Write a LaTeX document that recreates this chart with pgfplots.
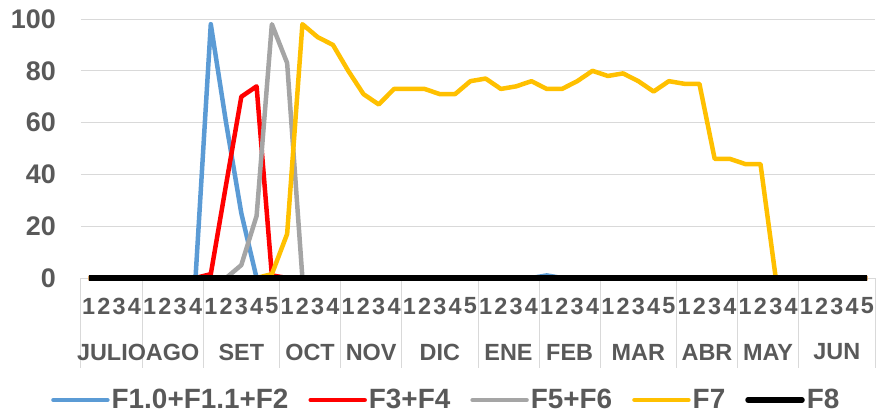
\documentclass[border=0pt]{standalone}
\usepackage{fontspec}
\setmainfont{Liberation Sans}
\usepackage{pgfplots}
\pgfplotsset{compat=1.18}
\usepackage{pgfplotstable}
\definecolor{txt}{HTML}{595959}
\definecolor{grd}{HTML}{D9D9D9}
\definecolor{cblue}{HTML}{5B9BD5}
\definecolor{cred}{HTML}{FF0000}
\definecolor{cgray}{HTML}{A5A5A5}
\definecolor{cyel}{HTML}{FFC000}

\pgfplotstableread{
x  a   b   c   d   e
0  0   0   0   0   0
1  0   0   0   0   0
2  0   0   0   0   0
3  0   0   0   0   0
4  0   0   0   0   0
5  0   0   0   0   0
6  0   0   0   0   0
7  0   0   0   0   0
8  98  1.5 0   0   0
9  60  36  0   0   0
10 25  70  5   0   0
11 0   74  24  0   0
12 0   1   98  1.5 0
13 0   0   83  17  0
14 0   0   0   98  0
15 0   0   0   93  0
16 0   0   0   90  0
17 0   0   0   80  0
18 0   0   0   71  0
19 0   0   0   67  0
20 0   0   0   73  0
21 0   0   0   73  0
22 0   0   0   73  0
23 0   0   0   71  0
24 0   0   0   71  0
25 0   0   0   76  0
26 0   0   0   77  0
27 0   0   0   73  0
28 0   0   0   74  0
29 0   0   0   76  0
30 1   0   0   73  0
31 0   0   0   73  0
32 0   0   0   76  0
33 0   0   0   80  0
34 0   0   0   78  0
35 0   0   0   79  0
36 0   0   0   76  0
37 0   0   0   72  0
38 0   0   0   76  0
39 0   0   0   75  0
40 0   0   0   75  0
41 0   0   0   46  0
42 0   0   0   46  0
43 0   0   0   44  0
44 0   0   0   44  0
45 0   0   0   0   0
46 0   0   0   0   0
47 0   0   0   0   0
48 0   0   0   0   0
49 0   0   0   0   0
50 0   0   0   0   0
51 0   0   0   0   0
}\data

\begin{document}
\begin{tikzpicture}
\begin{axis}[
  name=ax,
  scale only axis, width=794bp, height=259bp,
  xmin=-0.5, xmax=51.5, ymin=0, ymax=100,
  axis line style={draw=none},
  ytick={0,20,...,100},
  ymajorgrids=true, xmajorgrids=false, xminorgrids=false,
  grid style={grd, line width=1bp},
  major tick length=0pt, tick style={draw=none},
  xtick pos=bottom, ytick pos=left,
  /pgf/number format/assume math mode=true,
  yticklabel style={font=\fontsize{27}{30}\selectfont\bfseries, text=txt, anchor=east, inner sep=0pt, xshift=-25bp},
  xtick={0,...,51},
  xticklabels={1,2,3,4,1,2,3,4,1,2,3,4,5,1,2,3,4,1,2,3,4,1,2,3,4,5,1,2,3,4,1,2,3,4,1,2,3,4,5,1,2,3,4,1,2,3,4,1,2,3,4,5},
  xticklabel style={font=\fontsize{23.5}{26}\selectfont\bfseries, text=txt, anchor=center, inner sep=0pt, yshift=-28bp},
  clip=false,
  legend style={at={(0.4600,-0.471)}, anchor=center, legend columns=-1, draw=none, fill=none,
    font=\fontsize{28}{30}\selectfont\bfseries, text=txt, inner sep=0pt,
    /tikz/every even column/.append style={column sep=18bp}},
  legend image code/.code={\draw[#1, line cap=round] (0bp,0bp) -- (54bp,0bp);},
  every axis plot/.append style={line join=round, no markers},
]
\pgfplotsinvokeforeach{-0.5,3.5,7.5,12.5,16.5,20.5,25.5,29.5,33.5,38.5,42.5,46.5,51.5}{
  \draw[grd, line width=1bp] (axis cs:#1,0) -- (axis cs:#1,-34.75);
}
\addplot[cblue, line width=4.5bp] table[x=x,y=a]{\data};
\addlegendentry{F1.0+F1.1+F2}
\addplot[cred, line width=4.5bp] table[x=x,y=b]{\data};
\addlegendentry{F3+F4}
\addplot[cgray, line width=4.5bp] table[x=x,y=c]{\data};
\addlegendentry{F5+F6}
\addplot[cyel, line width=4.5bp] table[x=x,y=d]{\data};
\addlegendentry{F7}
\addplot[black, line width=5.5bp] table[x=x,y=e]{\data};
\addlegendentry{F8}

\begin{scope}[every node/.style={font=\fontsize{23.5}{26}\selectfont\bfseries, text=txt, anchor=center, inner sep=0pt, yshift=-74bp}]
\node at (axis cs:1.5,0) {JULIO};
\node at (axis cs:5.5,0) {AGO};
\node at (axis cs:10,0) {SET};
\node at (axis cs:14.5,0) {OCT};
\node at (axis cs:18.5,0) {NOV};
\node at (axis cs:23,0) {DIC};
\node at (axis cs:27.5,0) {ENE};
\node at (axis cs:31.5,0) {FEB};
\node at (axis cs:36,0) {MAR};
\node at (axis cs:40.5,0) {ABR};
\node at (axis cs:44.5,0) {MAY};
\node at (axis cs:49,0) {JUN};
\end{scope}
\end{axis}
\pgfresetboundingbox
\path ([shift={(-81bp,-137bp)}]ax.south west) rectangle ([shift={(6bp,19bp)}]ax.north east);
\end{tikzpicture}
\end{document}
